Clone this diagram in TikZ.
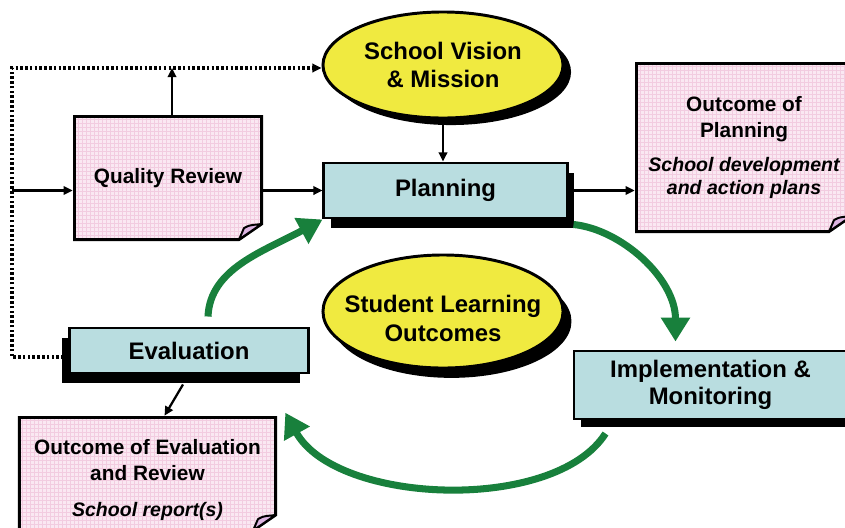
\documentclass[tikz,border=0pt]{standalone}
\usepackage{fontspec}
\setmainfont{Liberation Sans}
\usetikzlibrary{shapes.geometric,shadows,arrows.meta,calc}
\definecolor{notepink}{HTML}{FAE8F2}
\definecolor{gridpink}{HTML}{F2CCE0}
\definecolor{flap}{HTML}{DCB4E1}
\definecolor{boxblue}{HTML}{B9DDE0}
\definecolor{visionyellow}{HTML}{F0EA40}
\definecolor{cyclegreen}{HTML}{18803C}

% grid paper, border and curled corner of a note
\newcommand\notecorner{%
  \draw[gridpink, line width=0.2pt, step=0.1cm]
    (path picture bounding box.south west) grid (path picture bounding box.north east);
  \path (path picture bounding box.north west) coordinate (nw)
        (path picture bounding box.south east) coordinate (se);
  \fill[white] (se) -- ++(0,-17) -- ++(-24,17) -- cycle;
  \draw[line width=2.1pt, line join=miter] ($(nw)+(1.5,1.5)$) -- ($(se|-nw)+(-1.5,1.5)$)
    -- ($(se)+(-1.5,-17)$) -- ($(se)+(-24,-1.5)$) -- ($(nw|-se)+(1.5,-1.5)$) -- cycle;
  \filldraw[fill=flap, line width=1.4pt, line join=round] ($(se)+(-24,-1.5)$) -- ($(se)+(-19,-13)$)
    .. controls ($(se)+(-13,-17)$) and ($(se)+(-7,-16)$) .. ($(se)+(-1.5,-17)$) -- cycle;
}
\newcommand\subnote[1]{{\fontsize{13.9}{16}\selectfont\itshape #1}}

\begin{document}
\begin{tikzpicture}[x=0.025cm, y=-0.025cm,
    note/.style={fill=notepink, inner sep=0pt, align=center,
      font=\bfseries\fontsize{14.8}{18}\selectfont, path picture={\notecorner}},
    phase/.style={draw, line width=2.1pt, fill=boxblue, inner sep=0pt, align=center,
      font=\bfseries\fontsize{17}{19.5}\selectfont},
    goal/.style={ellipse, draw, line width=2.1pt, fill=visionyellow, inner sep=0pt, align=center,
      font=\bfseries\fontsize{17}{20.5}\selectfont},
    backing/.style 2 args={drop shadow={shadow xshift=#1, shadow yshift=#2, opacity=1, fill=black}},
    link/.style={line width=1.6pt, -{Triangle[length=6.5pt,width=6pt]}},
    dotlink/.style={link, line width=2.2pt, dash pattern=on 1.8pt off 1.6pt},
    flow/.style={cyclegreen, line width=5pt, -{Triangle[length=0.6cm,width=0.7cm]}}]
  \useasboundingbox (0,0) rectangle (845,527);

  \node[goal, minimum width=6cm, minimum height=2.65cm, backing={5.7pt}{-5pt}] (vision) at (443,65) {School Vision\\\& Mission};
  \node[goal, minimum width=6cm, minimum height=2.825cm, inner xsep=-0.4cm, backing={6pt}{-7pt}] (slo) at (443,311.5) {\rule{0pt}{22.4pt}Student Learning\\Outcomes};

  \node[phase, minimum width=6.075cm, minimum height=1.375cm, backing={5pt}{-7pt}] (plan) at (445.5,190.5) {Planning};
  \node[phase, minimum width=5.95cm, minimum height=1.125cm, backing={-6pt}{-7pt}] (eval) at (189,350.5) {Evaluation};
  \node[phase, minimum width=6.825cm, minimum height=1.7cm, backing={5pt}{-6pt}] (impl) at (710.5,385) {Implementation \&\\Monitoring};

  \node[note, minimum width=4.75cm, minimum height=3.15cm] (qr) at (168,178) {Quality Review};
  \node[note, minimum width=5.45cm, minimum height=4.275cm] (outplan) at (744,147.5)
    {Outcome of\\Planning\\[6pt]\subnote{School development}\\[-1.6pt]\subnote{and action plans}};
  \node[note, minimum width=6.475cm, minimum height=2.9cm] (outeval) at (147.5,474)
    {\rule{0pt}{19.3pt}Outcome of Evaluation\\and Review\\[7.6pt]\subnote{School report(s)}};

  % feedback loop on the left
  \coordinate (lt) at (12,68);
  \coordinate (lb) at (12,357);
  \draw[dotlink] (eval.west |- lb) -- (lb) -- (lt) -- (lt -| vision.west);
  \draw[link] (lt |- plan.west) -- (qr.west |- plan.west);
  \draw[link] (qr.east |- plan.west) -- (plan.west);
  \draw[link] ([xshift=0.1cm]qr.north) -- ([xshift=0.1cm]qr.north |- lt);
  \draw[link] (vision.south) -- (vision.south |- plan.north);
  \draw[link] (plan.east) -- (plan.east -| outplan.west);
  \draw[link] ($(eval.south)+(-6,10)$) -- ($(outeval.north)+(17,0)$);

  % the cycle
  \draw[flow] ($(eval.north)+(19,-10)$) .. controls +(2,-48) and +(-59,32) .. (plan.south west);
  \draw[flow] ($(plan.south east)+(5,5)$) .. controls +(48,5) and +(0,-63) .. ($(impl.north west)+(103,-8)$);
  \draw[flow] ($(impl.south west)+(33,13)$) .. controls +(-51,80) and +(51,92) .. ($(outeval.north east)+(8,-3)$);
\end{tikzpicture}
\end{document}
